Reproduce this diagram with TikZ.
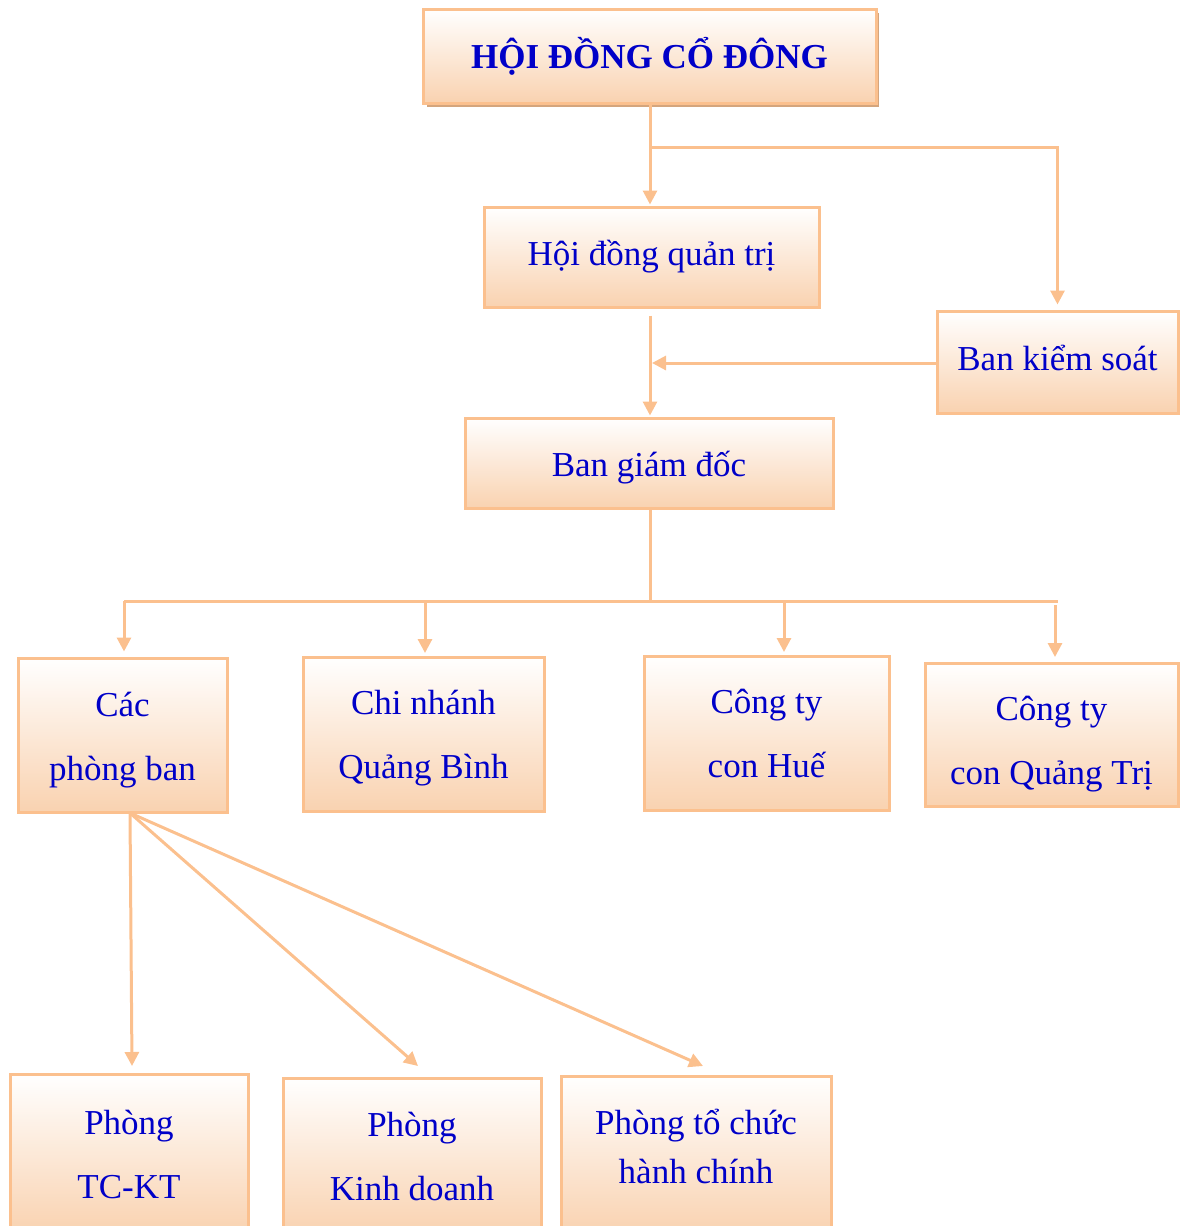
\documentclass[tikz,border=0pt]{standalone}
\usepackage{fontspec}
\setmainfont{Liberation Serif}
\usetikzlibrary{arrows.meta}
\definecolor{edge}{RGB}{251,192,142}
\definecolor{peach}{RGB}{249,210,176}
\definecolor{txt}{RGB}{0,0,200}
\definecolor{shad}{RGB}{212,165,125}
\newcommand\mvln[2]{\raisebox{#1}[\height][\depth]{#2}}
\tikzset{
  box/.style={draw=edge, line width=3pt, top color=white, bottom color=peach,
    inner sep=0pt, align=center, text=txt, font=\fontsize{35}{64}\selectfont},
  conn/.style={draw=edge, line width=3pt, -{Triangle[width=14pt,length=14pt]}},
  plain/.style={draw=edge, line width=3pt},
}
\begin{document}
\begin{tikzpicture}[x=1pt,y=-1pt]
\useasboundingbox (0,0) rectangle (1179,1226);
% boxes
\fill[shad] (427,13) rectangle (879,107);
\node[box, minimum width=453pt, minimum height=94pt, font=\bfseries\fontsize{35}{40}\selectfont] (hdcd) at (649.5,56) {HỘI ĐỒNG CỔ ĐÔNG};
\node[box, minimum width=335pt, minimum height=100pt] (hdqt) at (651.5,257) {Hội đồng quản trị};
\node[box, minimum width=241pt, minimum height=102pt] (bks) at (1057.5,362) {\mvln{4pt}{Ban kiểm soát}};
\node[box, minimum width=368pt, minimum height=90pt] (bgd) at (649,463) {\mvln{-5pt}{Ban giám đốc}};
\node[box, minimum width=209pt, minimum height=154pt] (cpb) at (122.5,735) {\mvln{-5pt}{Các}\\\mvln{-5pt}{phòng ban}};
\node[box, minimum width=241pt, minimum height=154pt] (cnqb) at (423.5,734) {\mvln{-4pt}{Chi nhánh}\\\mvln{-4pt}{Quảng Bình}};
\node[box, minimum width=245pt, minimum height=154pt] (cthue) at (766.5,733) {Công ty\\con Huế};
\node[box, minimum width=253pt, minimum height=143pt] (ctqt) at (1051.5,734.5) {\mvln{-10pt}{Công ty}\\\mvln{-10pt}{con Quảng Trị}};
\node[box, minimum width=238pt, minimum height=160pt] (tckt) at (129,1154) {Phòng\\TC-KT};
\node[box, minimum width=258pt, minimum height=156pt] (kd) at (412,1156) {Phòng\\Kinh doanh};
\node[box, minimum width=270pt, minimum height=158pt, font=\fontsize{35}{49}\selectfont] (tchc) at (696,1155) {\mvln{9pt}{Phòng tổ chức}\\\mvln{9pt}{hành chính}};
% coordinates
\coordinate (b1) at (650,147);
\coordinate (j1) at (652,363);
\coordinate (bus) at (650,601);
\coordinate (busL) at (124,601);
\coordinate (busR) at (1058,601);
\coordinate (o) at (130,813);
\coordinate (t1) at (132,1066);
\coordinate (t2) at (418,1066);
\coordinate (t3) at (703,1066);
% connectors
\draw[conn, shorten >=1pt] (hdcd.south -| b1) -- (b1 |- hdqt.north);
\draw[conn, shorten >=5pt] (b1) -| (bks.north);
\draw[conn, shorten <=7pt, shorten >=1pt] (b1 |- hdqt.south) -- (b1 |- bgd.north);
\draw[conn] (bks.west |- j1) -- (j1);
\draw[plain] (bgd.south -| bus) -- (bus);
\draw[plain] (busL) -- (busR);
\draw[conn, shorten >=5pt] (busL) -- (busL |- cpb.north);
\draw[conn, shorten >=4pt] (425,601) -- (425,657);
\draw[conn, shorten >=4pt] (784,601) -- (784,656);
\draw[conn, shorten <=4pt, shorten >=6pt] (1055,601) -- (1055,663);
\draw[conn] (o) -- (t1);
\draw[conn] (o) -- (t2);
\draw[conn] (o) -- (t3);
\end{tikzpicture}
\end{document}
